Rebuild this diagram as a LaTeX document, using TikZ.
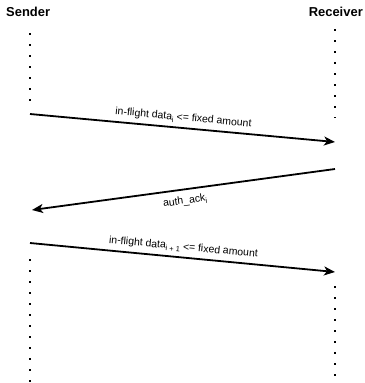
\documentclass[tikz,border=0pt]{standalone}
\usepackage{fontspec}
\setmainfont{Liberation Sans}
\usetikzlibrary{arrows.meta}
\newcommand{\lowidx}[1]{\raisebox{-2.5bp}{\fontsize{7.5}{8}\selectfont #1}}

\begin{document}
\begin{tikzpicture}[
  x=1bp, y=-1bp,
  party/.style={font=\fontsize{13}{15}\selectfont\bfseries, inner sep=0pt},
  life/.style={line width=1.8bp, dash pattern=on 1.8bp off 9.2bp},
  msg/.style={line width=1.8bp, -{Stealth[length=11bp,width=9bp,inset=3bp]}},
  lbl/.style={font=\fontsize{10.5}{12}\selectfont, sloped, inner sep=4bp}
]
\useasboundingbox (0,0) rectangle (365,383);
\node[party, anchor=west] (sender) at (6,12) {Sender};
\node[party, anchor=east] (receiver) at (363,12) {Receiver};

% lifelines
\coordinate (s1) at (30,33);
\coordinate (s2) at (30,104);
\coordinate (s3) at (30,259);
\coordinate (s4) at (30,383);
\coordinate (r1) at (335,29);
\coordinate (r2) at (335,118);
\coordinate (r3) at (335,286);
\coordinate (r4) at (335,376);
\draw[life] (s1) -- (s2);
\draw[life] (r1) -- (r2);
\draw[life] (s3) -- (s4);
\draw[life] (r3) -- (r4);

% messages
\coordinate (m1a) at (30,114);
\coordinate (m1b) at (335,142);
\coordinate (m2a) at (335,169);
\coordinate (m2b) at (32,210);
\coordinate (m3a) at (30,243);
\coordinate (m3b) at (335,272);
\draw[msg] (m1a) -- node[lbl, above, pos=0.5]{in-flight data\lowidx{i} <= fixed amount} (m1b);
\draw[msg] (m2a) -- node[lbl, below, pos=0.5, inner sep=6bp]{auth\_ack\lowidx{i}} (m2b);
\draw[msg] (m3a) -- node[lbl, above, pos=0.5]{in-flight data\lowidx{i + 1} <= fixed amount} (m3b);
\end{tikzpicture}
\end{document}
